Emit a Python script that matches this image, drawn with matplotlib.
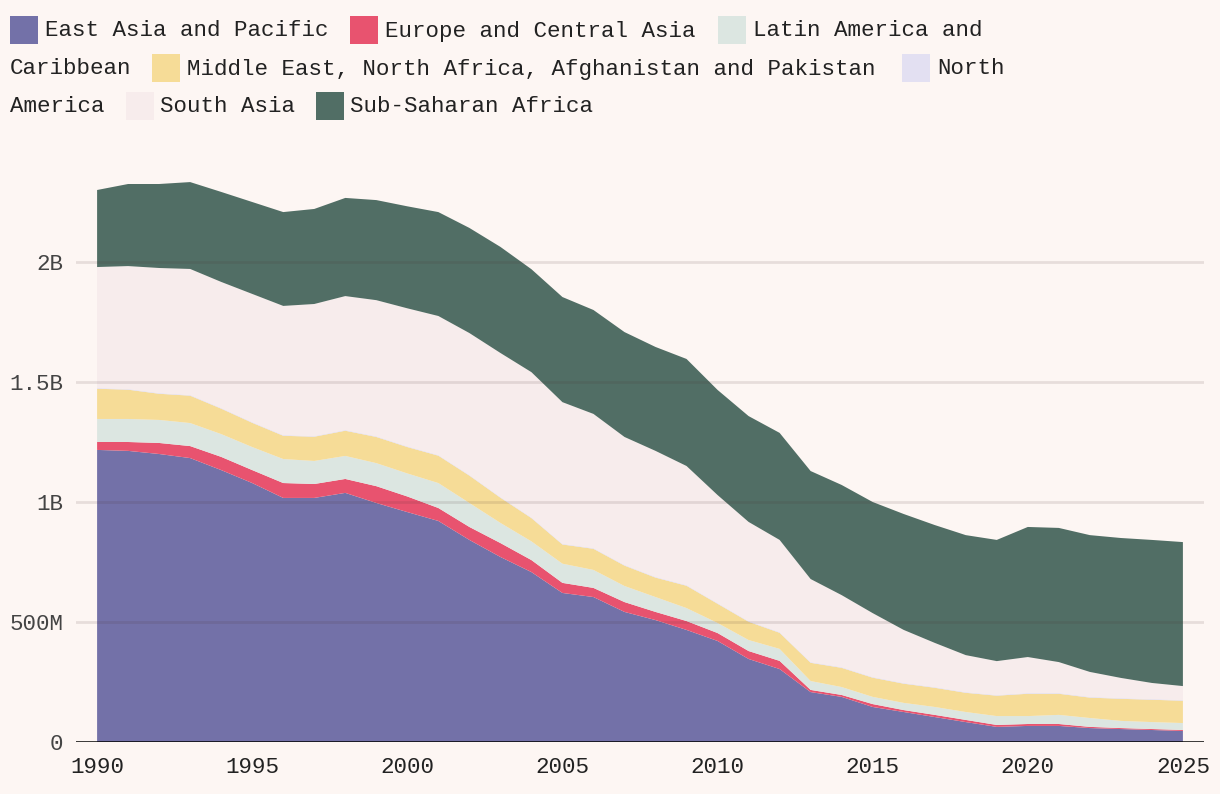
import matplotlib.pyplot as plt
from matplotlib.patches import Rectangle

years = list(range(1990, 2026))

# people in extreme poverty, millions
east_asia = [1217, 1213, 1200, 1183, 1133, 1079, 1017, 1017, 1038, 996, 958, 921, 842, 771, 708, 621,
             604, 542, 508, 467, 421, 346, 304, 208, 188, 146, 125, 104, 83, 63, 67, 67, 58, 54, 50, 46]
europe = [33, 37, 46, 50, 55, 54, 62, 58, 58, 70, 65, 54, 54, 58, 50, 42,
          38, 41, 34, 37, 33, 33, 34, 9, 8, 12, 8, 9, 9, 8, 8, 8, 5, 4, 4, 4]
latin_america = [96, 96, 96, 96, 95, 96, 100, 96, 96, 96, 96, 104, 100, 84, 78, 80,
                 75, 67, 62, 54, 42, 46, 50, 37, 33, 30, 30, 33, 33, 37, 33, 38, 37, 30, 29, 29]
mena = [126, 122, 109, 114, 106, 101, 97, 101, 105, 109, 110, 114, 114, 105, 97, 80,
        88, 85, 81, 93, 80, 76, 67, 76, 80, 80, 80, 80, 80, 85, 93, 88, 85, 92, 93, 93]
north_america = [3] * 36
south_asia = [504, 512, 521, 525, 525, 534, 538, 550, 558, 567, 575, 579, 591, 600, 605, 590,
              559, 533, 525, 496, 450, 413, 384, 346, 300, 266, 221, 184, 154, 141, 150, 129, 104, 84, 67, 58]
sub_saharan = [321, 342, 350, 362, 375, 383, 391, 396, 409, 417, 425, 433, 438, 442, 429, 438,
               433, 437, 433, 446, 438, 441, 446, 450, 459, 463, 483, 491, 500, 505, 542, 559, 570, 583, 596, 600]

labels = ["East Asia and Pacific", "Europe and Central Asia", "Latin America and Caribbean",
          "Middle East, North Africa, Afghanistan and Pakistan", "North America",
          "South Asia", "Sub-Saharan Africa"]
colors = ["#7371a8", "#e8536f", "#dce6e1", "#f6dc97", "#e3e0f2", "#f7ecec", "#516e65"]

bg = "#fdf6f3"
W, H = 1220, 794
fs = 16.2
plt.rcParams['font.family'] = ['Liberation Mono', 'DejaVu Sans Mono']

fig = plt.figure(figsize=(W / 100, H / 100), dpi=100, facecolor=bg)
ax = fig.add_axes([76 / W, (H - 742) / H, (1204 - 76) / W, (742 - 166) / H], facecolor=bg)

series = [east_asia, europe, latin_america, mena, north_america, south_asia, sub_saharan]
ax.stackplot(years, [[v * 1e6 for v in s] for s in series], colors=colors, linewidth=0)

ax.set_xlim(1989.32, 2025.68)
ax.set_ylim(0, 2.4e9)
yt = [0, 5e8, 1e9, 1.5e9, 2e9]
ax.set_yticks(yt)
ax.set_yticklabels(["0", "500M", "1B", "1.5B", "2B"], fontsize=fs, color="#444444")
ax.set_xticks(range(1990, 2026, 5))
ax.set_xticklabels([str(y) for y in range(1990, 2026, 5)], fontsize=fs, color="#222222")
ax.tick_params(axis='both', length=0)
ax.tick_params(axis='y', pad=9)
ax.tick_params(axis='x', pad=11)
for v in yt[1:]:
    ax.axhline(v, color="#4a3030", alpha=0.12, linewidth=2, zorder=3)
ax.axhline(0, color="black", linewidth=1.8, zorder=4)
for s in ax.spines.values():
    s.set_visible(False)

# legend, wrapped like the original
def px(x, y):
    return x / W, 1 - y / H

items = [
    (10, 45, 31, labels[0], colors[0]),
    (350, 385, 31, "Europe and Central Asia", colors[1]),
    (718, 753, 31, "Latin America and", colors[2]),
    (152, 187, 69, labels[3], colors[3]),
    (902, 937, 69, "North", colors[4]),
    (126, 160, 107, "South Asia", colors[5]),
    (316, 350, 107, "Sub-Saharan Africa", colors[6]),
]
for sx, tx, cy, txt, c in items:
    x0, y0 = px(sx, cy + 13)
    fig.patches.append(Rectangle((x0, y0), 28 / W, 28 / H, transform=fig.transFigure,
                                 facecolor=c, edgecolor='none'))
    fig.text(*px(tx, cy), txt, fontsize=fs, va='center', ha='left', color="#222222")
fig.text(*px(10, 69), "Caribbean", fontsize=fs, va='center', ha='left', color="#222222")
fig.text(*px(10, 107), "America", fontsize=fs, va='center', ha='left', color="#222222")

fig.savefig("out.png", dpi=100, facecolor=bg)
